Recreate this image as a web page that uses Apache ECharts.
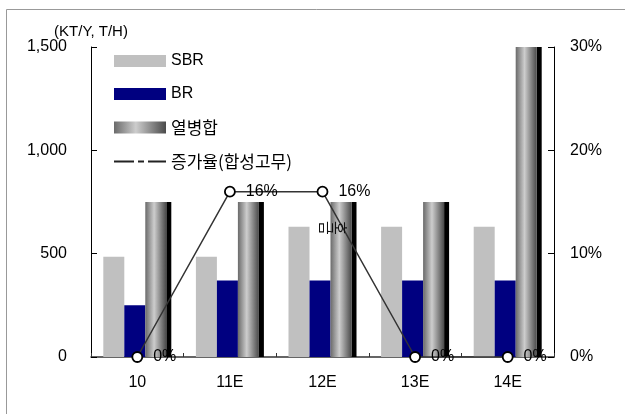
<!DOCTYPE html>
<html><head><meta charset="utf-8">
<script src="https://cdn.jsdelivr.net/npm/echarts@6/dist/echarts.min.js"></script>
<style>html,body{margin:0;padding:0;background:#fff}#c{width:625px;height:414px}</style>
</head><body><div id="c"></div>
<script>
var categories = ['10', '11E', '12E', '13E', '14E'];
var sbr = [485, 485, 630, 630, 630];
var br = [250, 370, 370, 370, 370];
var cogen = [750, 750, 750, 750, 1500];
var growth = [0, 16, 16, 0, 0];
var leftTicks = [0, 500, 1000, 1500];
var rightTicks = [0, 10, 20, 30];

var chart = echarts.init(document.getElementById('c'));
var latin = 'Liberation Sans, Arial, sans-serif';
var grad = new echarts.graphic.LinearGradient(0, 0, 1, 0, [
  {offset: 0, color: '#6a6a6a'},
  {offset: 0.42, color: '#cdcdcd'},
  {offset: 1, color: '#4a4a4a'}
]);
chart.setOption({
  animation: false,
  backgroundColor: '#fff',
  grid: {left: 91, right: 71, top: 47, bottom: 57},
  legend: {
    orient: 'vertical', left: 114, top: 53, padding: 0,
    itemWidth: 52, itemHeight: 12, itemGap: 17,
    symbolKeepAspect: true,
    formatter: function (n) { return /[가-힣]/.test(n) ? '{k|' + n + '}' : n; },
    textStyle: {fontFamily: latin, fontSize: 16, color: '#000', lineHeight: 14,
      rich: {k: {fontFamily: 'Noto Sans CJK KR', fontSize: 17, color: '#000', lineHeight: 14}}},
    data: [
      {name: 'SBR', icon: 'rect'},
      {name: 'BR', icon: 'rect'},
      {name: '열병합', icon: 'rect'},
      {name: '증가율(합성고무)', icon: 'path://M0,0H20V2.2H0Z M24,0H30V2.2H24Z M34,0H52V2.2H34Z',
        itemStyle: {color: '#222', borderWidth: 0}}
    ]
  },
  xAxis: {
    type: 'category', data: categories,
    axisLine: {lineStyle: {color: '#333', width: 1.5}},
    axisTick: {show: true, inside: true, length: 4, lineStyle: {color: '#333'}},
    axisLabel: {fontFamily: latin, fontSize: 16, color: '#000', margin: 18}
  },
  yAxis: [{
    type: 'value', min: 0, max: 1500, interval: 500,
    name: '(KT/Y, T/H)', nameLocation: 'end', nameGap: 8,
    nameTextStyle: {fontFamily: latin, fontSize: 15, color: '#000', align: 'center'},
    axisLine: {show: true, lineStyle: {color: '#000', width: 1}},
    axisTick: {show: true, inside: true, length: 6, lineStyle: {color: '#000'}},
    splitLine: {show: false},
    axisLabel: {fontFamily: latin, fontSize: 16, color: '#000', margin: 24,
      formatter: function (v) { return leftTicks.indexOf(v) >= 0 ? v.toLocaleString('en-US') : ''; }}
  }, {
    type: 'value', min: 0, max: 30, interval: 10, position: 'right',
    axisLine: {show: true, lineStyle: {color: '#000', width: 1}},
    axisTick: {show: true, inside: true, length: 6, lineStyle: {color: '#000'}},
    splitLine: {show: false},
    axisLabel: {fontFamily: latin, fontSize: 16, color: '#000', margin: 16,
      formatter: function (v) { return rightTicks.indexOf(v) >= 0 ? v + '%' : ''; }}
  }],
  series: [
    {name: 'SBR', type: 'bar', data: sbr, barWidth: 21, barGap: '0%', itemStyle: {color: '#c0c0c0'}},
    {name: 'BR', type: 'bar', data: br, barWidth: 21, barGap: '0%', itemStyle: {color: '#000080'}},
    {name: '열병합', type: 'bar', data: cogen, barWidth: 21, barGap: '0%', itemStyle: {color: grad}, z: 3},
    {name: 'shadow', type: 'bar', data: cogen, barWidth: 5, barGap: '0%', itemStyle: {color: '#000'}, z: 2, silent: true},
    {name: '증가율(합성고무)', type: 'line', yAxisIndex: 1, data: growth,
      lineStyle: {color: '#333', width: 1.5}, itemStyle: {color: '#fff', borderColor: '#000', borderWidth: 1.8},
      symbol: 'circle', symbolSize: 10, z: 5,
      label: {show: true, position: 'right', distance: 10, formatter: '{c}%', fontFamily: latin, fontSize: 16, color: '#000'}}
  ],
  graphic: [
    {type: 'rect', left: 4, top: 7, silent: true, shape: {x: 0, y: 0, width: 640, height: 420},
      style: {fill: 'none', stroke: '#999', lineWidth: 1}},
    {type: 'text', x: 327, y: 228, rotation: -Math.PI / 2, silent: true, z: 10,
      style: {text: '금', fontFamily: 'Noto Sans CJK KR', fontSize: 15, fill: '#111', align: 'center', verticalAlign: 'middle'}},
    {type: 'text', x: 341, y: 228, rotation: -Math.PI / 2, silent: true, z: 10,
      style: {text: '호', fontFamily: 'Noto Sans CJK KR', fontSize: 15, fill: '#111', align: 'center', verticalAlign: 'middle'}}
  ]
});
</script></body></html>
